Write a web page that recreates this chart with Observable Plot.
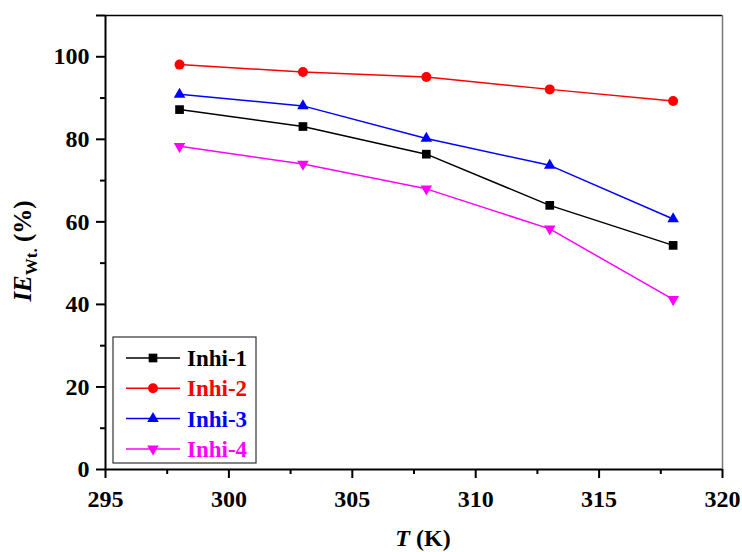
<!DOCTYPE html>
<html>
<head>
<meta charset="utf-8">
<script src="https://cdn.jsdelivr.net/npm/d3@7"></script>
<script src="https://cdn.jsdelivr.net/npm/@observablehq/plot@0.6"></script>
<style>
  html, body { margin: 0; padding: 0; background: white; }
</style>
</head>
<body>
<div id="chart"></div>
<script>
// ---- data ----
const temps = [298, 303, 308, 313, 318];
const inhi1 = [87.2, 83.1, 76.4, 64.0, 54.3];
const inhi2 = [98.1, 96.3, 95.1, 92.1, 89.3];
const inhi3 = [90.9, 88.1, 80.2, 73.7, 60.7];
const inhi4 = [78.3, 74.0, 68.0, 58.3, 41.2];
const seriesNames = ["Inhi-1", "Inhi-2", "Inhi-3", "Inhi-4"];
const seriesValues = [inhi1, inhi2, inhi3, inhi4];
const seriesColors = ["#000000", "#ff0000", "#0000ff", "#ff00ff"];
const xTicks = [295, 300, 305, 310, 315, 320];
const xMinor = [297.5, 302.5, 307.5, 312.5, 317.5];
const yTicks = [0, 20, 40, 60, 80, 100];
const yMinor = [10, 30, 50, 70, 90];
const yTopTick = [110];

// ---- symbols ----
const triangleDown = {
  draw(context, size) {
    const y = -Math.sqrt(size / (Math.sqrt(3) * 3));
    context.moveTo(0, -y * 2);
    context.lineTo(Math.sqrt(3) * y, y);
    context.lineTo(-Math.sqrt(3) * y, y);
    context.closePath();
  }
};
const seriesSymbols = [d3.symbolSquare, d3.symbolCircle, d3.symbolTriangle, triangleDown];
const seriesR = [4.9, 5, 4.3, 4.3];

const rows = [];
seriesNames.forEach((s, i) => temps.forEach((t, j) => rows.push({series: s, T: t, v: seriesValues[i][j]})));

const FONT = "'Liberation Serif', 'Times New Roman', Times, serif";
const TICK_FS = 24;

const dotMarks = seriesNames.map((s, i) =>
  Plot.dot(rows.filter(d => d.series === s), {
    x: "T", y: "v", fill: seriesColors[i], stroke: "none",
    symbol: () => seriesSymbols[i], r: seriesR[i]
  })
);

const plot = Plot.plot({
  width: 742,
  height: 552,
  marginLeft: 105,
  marginRight: 20,
  marginTop: 15,
  marginBottom: 83,
  x: {domain: [295, 320]},
  y: {domain: [0, 110]},
  style: {fontFamily: FONT, fontWeight: "bold", fontSize: TICK_FS + "px", color: "black", background: "white", overflow: "visible"},
  marks: [
    Plot.ruleY([110], {stroke: "black", strokeWidth: 1.5}),
    Plot.ruleX([320], {stroke: "#777", strokeWidth: 1.5}),
    Plot.axisX({ticks: xTicks, tickSize: 9, tickPadding: 11, label: null, strokeWidth: 2, fontSize: TICK_FS, tickFormat: d => String(d)}),
    Plot.axisX({ticks: xMinor, tickSize: 5, text: null, label: null, strokeWidth: 2}),
    Plot.axisY({ticks: yTicks, tickSize: 9, tickPadding: 7, label: null, strokeWidth: 2, fontSize: TICK_FS, tickFormat: d => String(d)}),
    Plot.axisY({ticks: yMinor, tickSize: 5, text: null, label: null, strokeWidth: 2}),
    Plot.axisY({ticks: yTopTick, tickSize: 9, text: null, label: null, strokeWidth: 2}),
    Plot.ruleX([295], {stroke: "black", strokeWidth: 2}),
    Plot.ruleY([0], {stroke: "black", strokeWidth: 2}),
    Plot.line(rows, {x: "T", y: "v", z: "series", stroke: d => seriesColors[seriesNames.indexOf(d.series)], strokeWidth: 1.5}),
    ...dotMarks
  ]
});

document.getElementById("chart").appendChild(plot);

// ---- axis titles and legend ----
const svg = d3.select(plot);

const yl = svg.append("text")
  .attr("transform", "translate(31,251) rotate(-90)")
  .attr("text-anchor", "middle")
  .attr("font-family", FONT).attr("font-weight", "bold").attr("font-size", 25).attr("fill", "black");
yl.append("tspan").attr("font-style", "italic").text("IE");
yl.append("tspan").attr("font-size", 17).attr("dy", 6).text("Wt.");
yl.append("tspan").attr("dy", -6).text(" (%)");

const xl = svg.append("text")
  .attr("x", 423).attr("y", 546)
  .attr("text-anchor", "middle")
  .attr("font-family", FONT).attr("font-weight", "bold").attr("font-size", 24).attr("fill", "black");
xl.append("tspan").attr("font-style", "italic").text("T");
xl.append("tspan").text(" (K)");

const lg = svg.append("g");
lg.append("rect").attr("x", 113).attr("y", 337).attr("width", 143).attr("height", 126)
  .attr("fill", "white").attr("stroke", "#333").attr("stroke-width", 1.2);
seriesNames.forEach((s, i) => {
  const y = 358 + i * 30.3;
  lg.append("line").attr("x1", 126).attr("x2", 180).attr("y1", y).attr("y2", y)
    .attr("stroke", seriesColors[i]).attr("stroke-width", 1.5);
  lg.append("path").attr("transform", `translate(153,${y})`)
    .attr("d", d3.symbol(seriesSymbols[i], Math.PI * seriesR[i] * seriesR[i])())
    .attr("fill", seriesColors[i]);
  lg.append("text").attr("x", 187).attr("y", y + 8)
    .attr("text-anchor", "start")
    .attr("font-family", FONT).attr("font-weight", "bold").attr("font-size", 23)
    .attr("fill", seriesColors[i]).text(s);
});
</script>
</body>
</html>
